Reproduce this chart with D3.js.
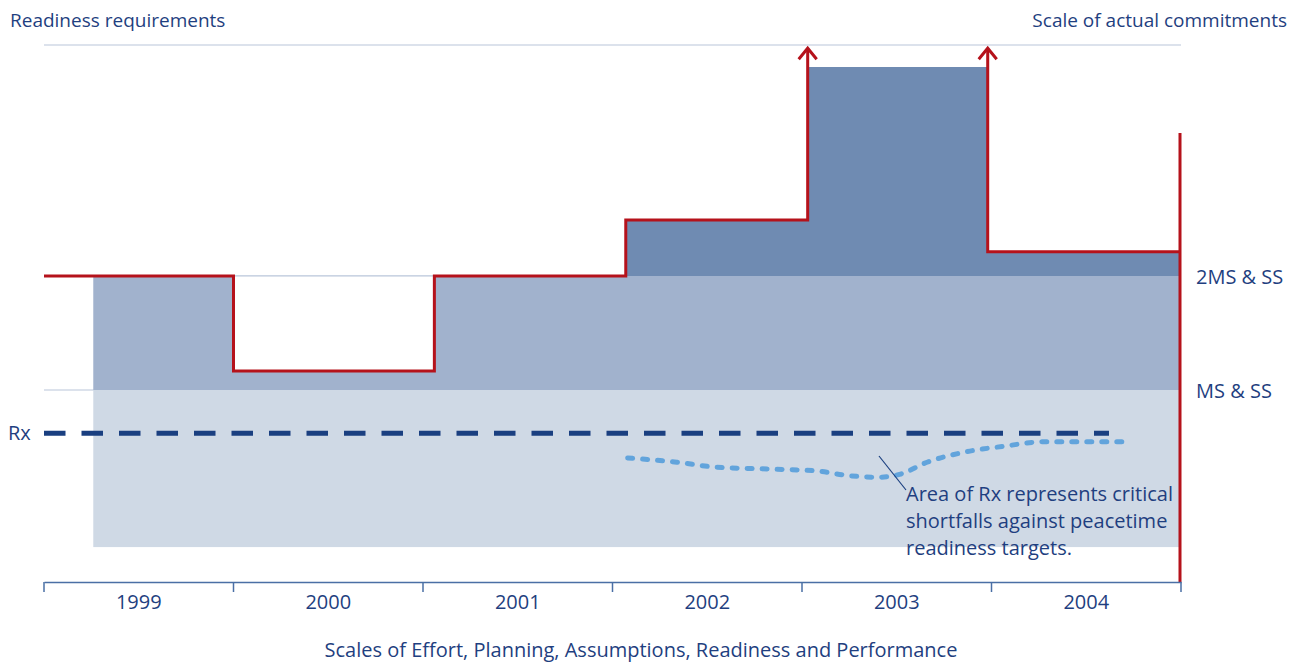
<!DOCTYPE html>
<html>
<head>
<meta charset="utf-8">
<script src="https://cdn.jsdelivr.net/npm/d3@7"></script>
<style>
  body { margin: 0; background: #fff; }
  svg text { font-family: "Open Sans", Lato, sans-serif; fill: #1f3f80; }
</style>
</head>
<body>
<svg id="chart" width="1294" height="663"></svg>
<script>
// Years on the x axis
const years = [1999, 2000, 2001, 2002, 2003, 2004];

// Requirement step line: edges (in year units) and level per step
const stepEdges = [1998.5, 1999.5, 2000.56, 2001.57, 2002.53, 2003.48, 2004.5];
const stepLevels = [57, 39.3, 57, 67.4, null, 61.5];   // null = off the top (arrow)

// Commitment bands
const bandStart = 1998.76;
const bandEnd = 2004.49;
const msLevel = 35.75;      // MS & SS
const twoMsLevel = 57;      // 2MS & SS
const floorLevel = 6.5;
const commitTops = [67.4, 95.9, 61.5];   // 2002, 2003, 2004 above 2MS & SS
const rxLevel = 27.7;
const rightEdgeTop = 83.6;

// Actual readiness (dotted) curve
const actualYears = [2001.58, 2001.84, 2002.04, 2002.35, 2002.57, 2002.75, 2002.9, 2003.02, 2003.16, 2003.36, 2003.57, 2003.77, 2004.21];
const actualVals  = [23.1, 22.3, 21.4, 21.0, 20.7, 19.8, 19.5, 20.1, 22.3, 24.2, 25.3, 26.1, 26.1];

const svg = d3.select('#chart');
const red = '#b5121b';

const x = d3.scaleLinear().domain([1998.5, 2004.5]).range([44, 1181]);
const y = d3.scaleLinear().domain([0, 100]).range([582, 45]);

// grid lines
[100, twoMsLevel, msLevel].forEach(v => {
    svg.append('line')
        .attr('x1', x(1998.5)).attr('x2', x(2004.5))
        .attr('y1', y(v)).attr('y2', y(v))
        .attr('stroke', '#b9c6da').attr('stroke-width', 1.2);
});

// light band (below MS & SS)
svg.append('rect')
    .attr('x', x(bandStart)).attr('width', x(bandEnd) - x(bandStart))
    .attr('y', y(msLevel)).attr('height', y(floorLevel) - y(msLevel))
    .attr('fill', '#cfd9e5');

// stepped areas: list of [x, top] with the step held until next x
function stepArea(segs, base) {
    return d3.area()
        .x(d => x(d[0]))
        .y0(y(base))
        .y1(d => y(d[1]))
        .curve(d3.curveStepAfter)(segs);
}

// medium band: MS & SS up to the lower of requirement and 2MS & SS
const medSegs = [];
stepLevels.forEach((lv, i) => {
    const x0 = i === 0 ? bandStart : stepEdges[i];
    medSegs.push([x0, lv === null ? twoMsLevel : Math.min(lv, twoMsLevel)]);
});
medSegs.push([bandEnd, twoMsLevel]);
svg.append('path').attr('d', stepArea(medSegs, msLevel)).attr('fill', '#a1b2cd');

// dark commitments above 2MS & SS
const darkSegs = commitTops.map((t, i) => [stepEdges[i + 3], t]);
darkSegs.push([bandEnd, commitTops[2]]);
svg.append('path').attr('d', stepArea(darkSegs, twoMsLevel)).attr('fill', '#6f8bb2');

// Rx dashed line
svg.append('line')
    .attr('x1', x(1998.5)).attr('x2', x(2004.12))
    .attr('y1', y(rxLevel)).attr('y2', y(rxLevel))
    .attr('stroke', '#1a3f80').attr('stroke-width', 5)
    .attr('stroke-dasharray', '21.5 16');

// dotted actual readiness curve
const curve = d3.line()
    .x(d => x(d))
    .y((d, i) => y(actualVals[i]))
    .curve(d3.curveMonotoneX);
svg.append('path')
    .attr('d', curve(actualYears))
    .attr('fill', 'none')
    .attr('stroke', '#62a4dc').attr('stroke-width', 5)
    .attr('stroke-linecap', 'round')
    .attr('stroke-dasharray', '5 10');

// red requirement step line (2003 step is open-ended, drawn in two pieces)
const topV = 99.4;
const redA = [];
for (let i = 0; i < 4; i++) {
    redA.push([x(stepEdges[i]), y(stepLevels[i])]);
    redA.push([x(stepEdges[i + 1]), y(stepLevels[i])]);
}
redA.push([x(stepEdges[4]), y(topV)]);
svg.append('path')
    .attr('d', d3.line()(redA))
    .attr('fill', 'none').attr('stroke', red).attr('stroke-width', 3);
svg.append('path')
    .attr('d', d3.line()([[x(stepEdges[5]), y(topV)], [x(stepEdges[5]), y(stepLevels[5])],
                          [x(stepEdges[6]) - 1, y(stepLevels[5])]]))
    .attr('fill', 'none').attr('stroke', red).attr('stroke-width', 3);

// arrow heads
[stepEdges[4], stepEdges[5]].forEach(e => {
    const ax = x(e), ay = y(topV);
    svg.append('path')
        .attr('d', `M${ax - 9},${ay + 11}L${ax},${ay}L${ax + 9},${ay + 11}`)
        .attr('fill', 'none').attr('stroke', red).attr('stroke-width', 3);
});

// right edge red vertical
svg.append('line')
    .attr('x1', x(2004.5) - 1).attr('x2', x(2004.5) - 1)
    .attr('y1', y(rightEdgeTop)).attr('y2', y(0))
    .attr('stroke', red).attr('stroke-width', 3);

// x axis
const xAxisScale = d3.scaleBand().domain(years).range([44, 1181]);
const axis = svg.append('g')
    .attr('transform', `translate(0,${y(0)})`)
    .call(d3.axisBottom(xAxisScale).tickSize(0).tickPadding(13));
axis.select('.domain').attr('stroke', '#4a6fa5').attr('stroke-width', 1.5);
axis.selectAll('text')
    .style('font-family', '"Open Sans", sans-serif').style('font-size', '20px').attr('fill', '#1f3f80');
// boundary ticks between bands
d3.range(years.length + 1).forEach(i => {
    const tx = 44 + i * xAxisScale.step();
    axis.append('line')
        .attr('x1', tx).attr('x2', tx).attr('y1', 0).attr('y2', 10)
        .attr('stroke', '#4a6fa5').attr('stroke-width', 1.5);
});

// annotation leader
svg.append('line')
    .attr('x1', 879).attr('y1', 456).attr('x2', 906).attr('y2', 490)
    .attr('stroke', '#1a3f80').attr('stroke-width', 1.2);
const note = svg.append('text').attr('x', 906).attr('y', 501).style('font-size', '20px');
['Area of Rx represents critical', 'shortfalls against peacetime', 'readiness targets.'].forEach((t, i) => {
    note.append('tspan').attr('x', 906).attr('dy', i === 0 ? 0 : 27).text(t);
});

// labels
svg.append('text').attr('x', 10).attr('y', 27).style('font-size', '19px').text('Readiness requirements');
svg.append('text').attr('x', 1287).attr('y', 27).attr('text-anchor', 'end').style('font-size', '19px')
    .text('Scale of actual commitments');
svg.append('text').attr('x', 1196).attr('y', y(twoMsLevel) + 8).style('font-size', '20px').text('2MS & SS');
svg.append('text').attr('x', 1196).attr('y', y(msLevel) + 8).style('font-size', '20px').text('MS & SS');
svg.append('text').attr('x', 8).attr('y', y(rxLevel) + 7).style('font-size', '20px').text('Rx');
svg.append('text').attr('x', 641).attr('y', 657).attr('text-anchor', 'middle').style('font-size', '20px')
    .text('Scales of Effort, Planning, Assumptions, Readiness and Performance');
</script>
</body>
</html>
